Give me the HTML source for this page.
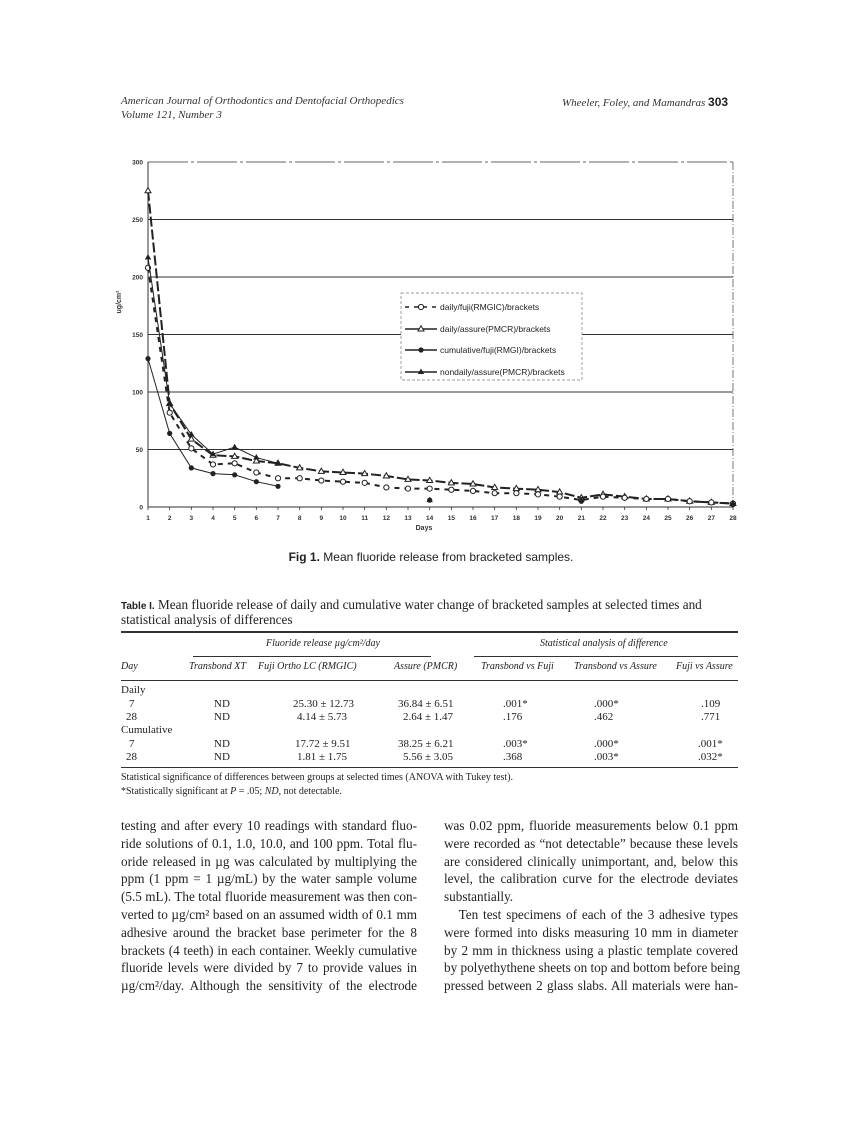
<!DOCTYPE html>
<html><head><meta charset="utf-8">
<style>
body{margin:0;background:#fff;width:862px;height:1122px;position:relative;overflow:hidden;font-family:"Liberation Serif",serif;color:#222}
.a{position:absolute;white-space:nowrap}
.hdr{font-style:italic;font-size:11px;color:#333}
.ln{position:absolute;white-space:nowrap;font-size:13.2px;text-align:justify;text-align-last:justify;height:16px;line-height:16px}
.tb{font-size:11px}
.ti{font-style:italic;font-size:10px}
.rule{position:absolute;background:#333}
</style></head><body>
<div class="a hdr" style="left:121px;top:95px">American Journal of Orthodontics and Dentofacial Orthopedics</div>
<div class="a hdr" style="left:121px;top:109px">Volume 121, Number 3</div>
<div class="a hdr" style="left:562px;top:95px">Wheeler, Foley, and Mamandras <b style="font-style:normal;font-family:'Liberation Sans',sans-serif;font-size:12px;color:#222">303</b></div>

<svg class="a" style="left:0;top:0" width="862" height="600">
<g id="grid"></g>
<g id="series"></g>
<g id="legend"></g>
</svg>
<div class="a" style="left:0;width:862px;text-align:center;top:550px;font-family:'Liberation Sans',sans-serif;font-size:12px"><b>Fig 1.</b> Mean fluoride release from bracketed samples.</div>

<div class="a" style="left:121px;top:597px;font-size:13.2px"><b style="font-family:'Liberation Sans',sans-serif;font-size:10px">Table I.</b> Mean fluoride release of daily and cumulative water change of bracketed samples at selected times and</div>
<div class="a" style="left:121px;top:612px;font-size:13.2px">statistical analysis of differences</div>
<div class="rule" style="left:121px;top:631px;width:617px;height:1.5px"></div>
<div class="a ti" style="left:266px;top:638px">Fluoride release µg/cm²/day</div>
<div class="a ti" style="left:540px;top:638px">Statistical analysis of difference</div>
<div class="rule" style="left:193px;top:656px;width:238px;height:1px"></div>
<div class="rule" style="left:474px;top:656px;width:264px;height:1px"></div>
<div class="a ti" style="left:121px;top:661px">Day</div>
<div class="a ti" style="left:189px;top:661px">Transbond XT</div>
<div class="a ti" style="left:258px;top:661px">Fuji Ortho LC (RMGIC)</div>
<div class="a ti" style="left:394px;top:661px">Assure (PMCR)</div>
<div class="a ti" style="left:481px;top:661px">Transbond vs Fuji</div>
<div class="a ti" style="left:574px;top:661px">Transbond vs Assure</div>
<div class="a ti" style="left:676px;top:661px">Fuji vs Assure</div>
<div class="rule" style="left:121px;top:680px;width:617px;height:1px"></div>
<div class="a tb" style="left:121px;top:684px">Daily</div>
<div class="a tb" style="left:129px;top:698px">7</div><div class="a tb" style="left:214px;top:698px">ND</div><div class="a tb" style="left:293px;top:698px">25.30 ± 12.73</div><div class="a tb" style="left:398px;top:698px">36.84 ± 6.51</div><div class="a tb" style="left:503px;top:698px">.001*</div><div class="a tb" style="left:594px;top:698px">.000*</div><div class="a tb" style="left:701px;top:698px">.109</div>
<div class="a tb" style="left:126px;top:711px">28</div><div class="a tb" style="left:214px;top:711px">ND</div><div class="a tb" style="left:297px;top:711px">4.14 ± 5.73</div><div class="a tb" style="left:403px;top:711px">2.64 ± 1.47</div><div class="a tb" style="left:503px;top:711px">.176</div><div class="a tb" style="left:594px;top:711px">.462</div><div class="a tb" style="left:701px;top:711px">.771</div>
<div class="a tb" style="left:121px;top:724px">Cumulative</div>
<div class="a tb" style="left:129px;top:738px">7</div><div class="a tb" style="left:214px;top:738px">ND</div><div class="a tb" style="left:295px;top:738px">17.72 ± 9.51</div><div class="a tb" style="left:398px;top:738px">38.25 ± 6.21</div><div class="a tb" style="left:503px;top:738px">.003*</div><div class="a tb" style="left:594px;top:738px">.000*</div><div class="a tb" style="left:698px;top:738px">.001*</div>
<div class="a tb" style="left:126px;top:751px">28</div><div class="a tb" style="left:214px;top:751px">ND</div><div class="a tb" style="left:297px;top:751px">1.81 ± 1.75</div><div class="a tb" style="left:403px;top:751px">5.56 ± 3.05</div><div class="a tb" style="left:503px;top:751px">.368</div><div class="a tb" style="left:594px;top:751px">.003*</div><div class="a tb" style="left:698px;top:751px">.032*</div>
<div class="rule" style="left:121px;top:767px;width:617px;height:1px"></div>
<div class="a" style="left:121px;top:772px;font-size:10px">Statistical significance of differences between groups at selected times (ANOVA with Tukey test).</div>
<div class="a" style="left:121px;top:786px;font-size:10px">*Statistically significant at <i>P</i> = .05; <i>ND</i>, not detectable.</div>

<div>
<div class="ln" style="left:121px;width:296px;top:818px">testing and after every 10 readings with standard fluo-</div>
<div class="ln" style="left:121px;width:296px;top:836px">ride solutions of 0.1, 1.0, 10.0, and 100 ppm. Total flu-</div>
<div class="ln" style="left:121px;width:296px;top:854px">oride released in µg was calculated by multiplying the</div>
<div class="ln" style="left:121px;width:296px;top:871px">ppm (1 ppm = 1 µg/mL) by the water sample volume</div>
<div class="ln" style="left:121px;width:296px;top:889px">(5.5 mL). The total fluoride measurement was then con-</div>
<div class="ln" style="left:121px;width:296px;top:907px">verted to µg/cm² based on an assumed width of 0.1 mm</div>
<div class="ln" style="left:121px;width:296px;top:925px">adhesive around the bracket base perimeter for the 8</div>
<div class="ln" style="left:121px;width:296px;top:943px">brackets (4 teeth) in each container. Weekly cumulative</div>
<div class="ln" style="left:121px;width:296px;top:960px">fluoride levels were divided by 7 to provide values in</div>
<div class="ln" style="left:121px;width:296px;top:978px">µg/cm²/day. Although the sensitivity of the electrode</div>
</div>
<div>
<div class="ln" style="left:444px;width:294px;top:818px">was 0.02 ppm, fluoride measurements below 0.1 ppm</div>
<div class="ln" style="left:444px;width:294px;top:836px">were recorded as “not detectable” because these levels</div>
<div class="ln" style="left:444px;width:294px;top:854px">are considered clinically unimportant, and, below this</div>
<div class="ln" style="left:444px;width:294px;top:871px">level, the calibration curve for the electrode deviates</div>
<div class="ln" style="left:444px;top:889px;text-align:left;text-align-last:left">substantially.</div>
<div class="ln" style="left:444px;width:294px;top:907px">&nbsp;&nbsp;&nbsp;Ten test specimens of each of the 3 adhesive types</div>
<div class="ln" style="left:444px;width:294px;top:925px">were formed into disks measuring 10 mm in diameter</div>
<div class="ln" style="left:444px;width:294px;top:943px">by 2 mm in thickness using a plastic template covered</div>
<div class="ln" style="left:444px;width:294px;top:960px">by polyethythene sheets on top and bottom before being</div>
<div class="ln" style="left:444px;width:294px;top:978px">pressed between 2 glass slabs. All materials were han-</div>
</div>

<script>
const days=[1,2,3,4,5,6,7,8,9,10,11,12,13,14,15,16,17,18,19,20,21,22,23,24,25,26,27,28];
const yTicks=[0,50,100,150,200,250,300];
const dailyFuji=[208,82,51,37,38,30,25,25,23,22,21,17,16,16,15,14,12,12,11,9,6,9,8,7,7,5,4,3];
const dailyAssure=[275,90,59,45,44,40,38,34,31,30,29,27,24,23,21,20,17,16,15,13,8,11,9,7,7,5,4,3];
const cumDays=[1,2,3,4,5,6,7,14,21,28];
const cumFuji=[129,64,34,29,28,22,18,6,5,2];
const nonDays=[1,2,3,4,5,6,7,14,21,28];
const nonAssure=[217,90,63,46,52,43,38,6,6,3];
const legendLabels=["daily/fuji(RMGIC)/brackets","daily/assure(PMCR)/brackets","cumulative/fuji(RMGI)/brackets","nondaily/assure(PMCR)/brackets"];

const NS="http://www.w3.org/2000/svg";
const X0=148,X1=733,Y0=507,Y1=162;
const xs=d=>X0+(d-1)*(X1-X0)/27;
const ys=v=>Y0-v*(Y0-Y1)/300;
function mk(p,t,a){const e=document.createElementNS(NS,t);for(const k in a)e.setAttribute(k,a[k]);p.appendChild(e);return e;}
const grid=document.getElementById('grid'),ser=document.getElementById('series'),leg=document.getElementById('legend');
mk(grid,'line',{x1:X0,y1:Y1,x2:X0,y2:Y0,stroke:'#333','stroke-width':1});
mk(grid,'line',{x1:X1,y1:Y1,x2:X1,y2:Y0,stroke:'#555','stroke-width':0.8,'stroke-dasharray':'8 2 1 2'});
yTicks.forEach(v=>{
  const l=mk(grid,'line',{x1:X0,y1:ys(v),x2:X1,y2:ys(v),stroke:'#333','stroke-width':v===300?0.8:1});
  if(v===300)l.setAttribute('stroke-dasharray','40 3 3 3');
  
  const t=mk(grid,'text',{x:X0-5,y:ys(v)+2.5,'text-anchor':'end','font-size':6.5,'font-weight':'bold','font-family':'Liberation Sans, sans-serif',fill:'#333'});
  t.textContent=v;
  
  
});
days.forEach(d=>{
  mk(grid,'line',{x1:xs(d),y1:Y0,x2:xs(d),y2:Y0+3,stroke:'#333','stroke-width':0.8});
  const t=mk(grid,'text',{x:xs(d),y:Y0+13,'text-anchor':'middle','font-size':6.5,'font-weight':'bold','font-family':'Liberation Sans, sans-serif',fill:'#333'});
  t.textContent=d;
  
  
});
const xt=mk(grid,'text',{x:424,y:530,'text-anchor':'middle','font-size':7,'font-weight':'bold','font-family':'Liberation Sans, sans-serif',fill:'#333'});xt.textContent='Days';


const yt=mk(grid,'text',{x:0,y:0,transform:'translate(121,302) rotate(-90)','text-anchor':'middle','font-size':7,'font-weight':'bold','font-family':'Liberation Sans, sans-serif',fill:'#333'});yt.textContent='ug/cm²';



function marker(g,x,y,type){
  if(type==='oc')mk(g,'circle',{cx:x,cy:y,r:2.6,fill:'#fff',stroke:'#222','stroke-width':1});
  if(type==='fc')mk(g,'circle',{cx:x,cy:y,r:2.6,fill:'#222'});
  if(type==='ot')mk(g,'path',{d:`M${x},${y-3.2}L${x+3},${y+2}L${x-3},${y+2}Z`,fill:'#fff',stroke:'#222','stroke-width':1});
  if(type==='ft')mk(g,'path',{d:`M${x},${y-3.5}L${x+3.2},${y+2}L${x-3.2},${y+2}Z`,fill:'#222'});
}
function series(name,dx,vals,dash,w,type){
  const g=mk(ser,'g',{});
  
  
  if(name==='series-cumulative-fuji'||name==='series-nondaily-assure'){
    const pts=dx.slice(0,7).map((d,i)=>xs(d)+','+ys(vals[i])).join(' ');
    mk(g,'polyline',{points:pts,fill:'none',stroke:'#222','stroke-width':w});
  } else {
    const pts=dx.map((d,i)=>xs(d)+','+ys(vals[i])).join(' ');
    const p=mk(g,'polyline',{points:pts,fill:'none',stroke:'#222','stroke-width':w});
    if(dash)p.setAttribute('stroke-dasharray',dash);
  }
  dx.forEach((d,i)=>marker(g,xs(d),ys(vals[i]),type));
}
series('series-daily-assure',days,dailyAssure,'10 3',2,'ot');
series('series-daily-fuji',days,dailyFuji,'5 5',2,'oc');
series('series-nondaily-assure',nonDays,nonAssure,null,1,'ft');
series('series-cumulative-fuji',cumDays,cumFuji,null,1,'fc');

mk(leg,'rect',{x:401,y:293,width:181,height:87,fill:'#fff',stroke:'#777','stroke-width':0.7,'stroke-dasharray':'3 2'});
const ly=[307,329,350,372],lt=['oc','ot','fc','ft'],ld=['4 5',null,null,null];
legendLabels.forEach((s,i)=>{
  const g=mk(leg,'g',{});
  
  
  const l=mk(g,'line',{x1:405,y1:ly[i],x2:437,y2:ly[i],stroke:'#222','stroke-width':1.5});
  if(ld[i])l.setAttribute('stroke-dasharray',ld[i]);
  marker(g,421,ly[i],lt[i]);
  const t=mk(g,'text',{x:440,y:ly[i]+3,'font-size':8.5,'font-family':'Liberation Sans, sans-serif',fill:'#222'});t.textContent=s;
});
</script>
</body></html>
